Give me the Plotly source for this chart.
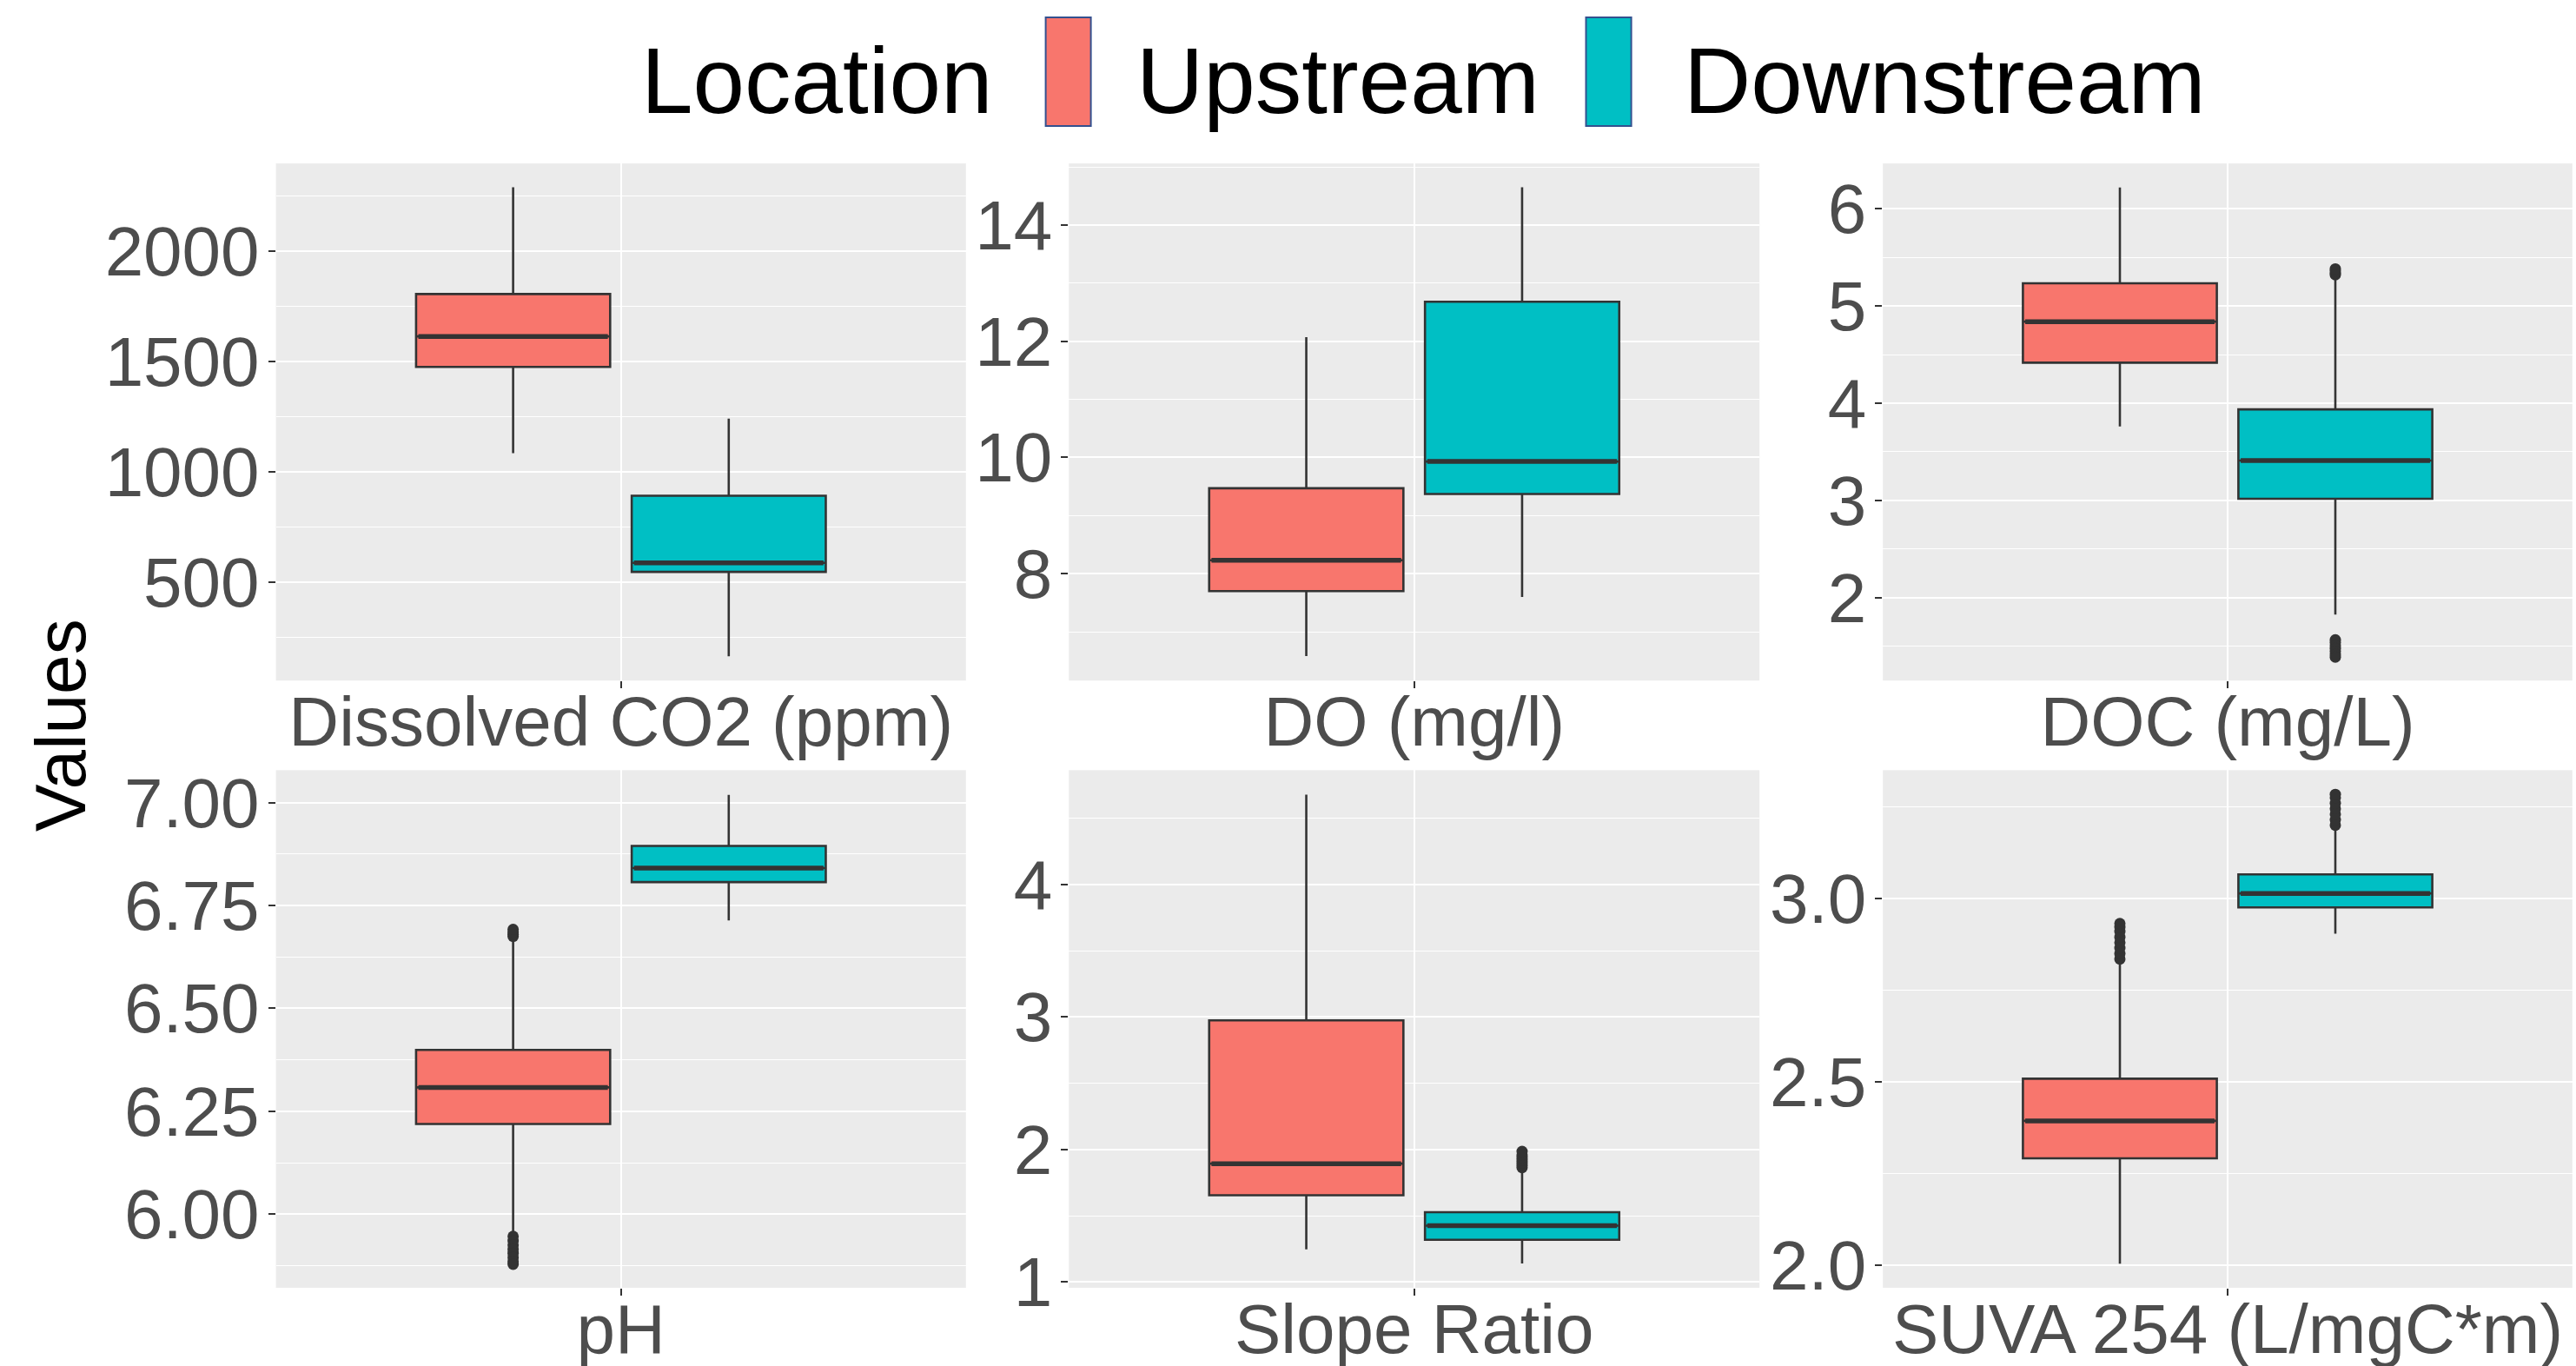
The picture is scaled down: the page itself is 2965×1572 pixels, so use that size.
import plotly.graph_objects as go

# ---------------- data ----------------
panels = ["Dissolved CO2 (ppm)", "DO (mg/l)", "DOC (mg/L)", "pH", "Slope Ratio", "SUVA 254 (L/mgC*m)"]
locations = ["Upstream", "Downstream"]

up_low = [1085, 6.58, 3.76, 5.955, 1.247, 2.005]
up_q1 = [1476, 7.70, 4.416, 6.219, 1.655, 2.292]
up_med = [1614, 8.23, 4.838, 6.308, 1.893, 2.394]
up_q3 = [1806, 9.47, 5.232, 6.399, 2.975, 2.509]
up_high = [2289, 12.07, 6.217, 6.668, 4.679, 2.83]
up_outliers = [
    [], [], [],
    [6.675, 6.68, 6.685, 6.692, 5.946, 5.935, 5.925, 5.915, 5.905, 5.895, 5.885, 5.878],
    [],
    [2.835, 2.85, 2.865, 2.88, 2.895, 2.91, 2.922, 2.932],
]

down_low = [166, 7.60, 1.827, 6.714, 1.140, 2.904]
down_q1 = [548, 9.37, 3.017, 6.807, 1.318, 2.976]
down_med = [589, 9.93, 3.411, 6.841, 1.425, 3.014]
down_q3 = [893, 12.68, 3.936, 6.895, 1.527, 3.066]
down_high = [1242, 14.65, 5.30, 7.019, 1.84, 3.19]
down_outliers = [
    [], [],
    [5.32, 5.34, 5.36, 5.38, 1.568, 1.54, 1.51, 1.48, 1.45, 1.42, 1.39],
    [],
    [1.863, 1.88, 1.90, 1.92, 1.94, 1.96, 1.986],
    [3.2, 3.215, 3.23, 3.245, 3.26, 3.275, 3.284],
]

# axis settings
y_ranges = [[56, 2397], [6.16, 15.06], [1.149, 6.464], [5.821, 7.079], [0.956, 4.864], [1.939, 3.350]]
y_dticks = [500, 2, 1, 0.25, 1, 0.5]
y_formats = ["", "", "", ".2f", "", ".1f"]

# ---------------- style ----------------
W, H = 2965, 1572
FONT = "Liberation Sans, Arial, Helvetica, sans-serif"
fill_colors = {"Upstream": "#F8766D", "Downstream": "#00BFC4"}
DARK = "#333333"
TXT = "#4D4D4D"
DODGE = 0.1875
BOX_W = 0.3375
col_px = [(317.6, 1111.8), (1230.3, 2025.2), (2167.2, 2960.8)]
row_px = [(188.1, 783.2), (886.3, 1482.0)]

fig = go.Figure()
layout = dict(
    width=W, height=H,
    margin=dict(l=0, r=0, t=0, b=0, pad=0),
    paper_bgcolor="white",
    plot_bgcolor="#EBEBEB",
    showlegend=False,
    boxmode="overlay",
    font=dict(family=FONT, color=TXT),
    shapes=[],
    annotations=[],
)

stats = {
    "Upstream": (up_low, up_q1, up_med, up_q3, up_high, up_outliers),
    "Downstream": (down_low, down_q1, down_med, down_q3, down_high, down_outliers),
}

for i, name in enumerate(panels):
    r, c = divmod(i, 3)
    k = i + 1
    xa = "x" if k == 1 else f"x{k}"
    ya = "y" if k == 1 else f"y{k}"
    for j, loc in enumerate(locations):
        low, q1, med, q3, high, outs = stats[loc]
        pos = 1 - DODGE if j == 0 else 1 + DODGE
        fig.add_trace(go.Box(
            x=[pos], q1=[q1[i]], median=[med[i]], q3=[q3[i]],
            lowerfence=[low[i]], upperfence=[high[i]],
            width=BOX_W, fillcolor=fill_colors[loc],
            line=dict(color=DARK, width=2.6), whiskerwidth=0,
            boxpoints=False, name=loc, xaxis=xa, yaxis=ya,
            hoverinfo="skip",
        ))
        fig.add_trace(go.Scatter(
            x=[pos - BOX_W / 2 + 0.004, pos + BOX_W / 2 - 0.004], y=[med[i], med[i]],
            mode="lines", line=dict(color=DARK, width=5.5),
            xaxis=xa, yaxis=ya, hoverinfo="skip",
        ))
        if outs[i]:
            fig.add_trace(go.Scatter(
                x=[pos] * len(outs[i]), y=outs[i], mode="markers",
                marker=dict(color=DARK, size=13, line=dict(width=0)),
                xaxis=xa, yaxis=ya, hoverinfo="skip",
            ))
    x0, x1 = col_px[c]
    y0, y1 = row_px[r]
    layout["xaxis" if k == 1 else f"xaxis{k}"] = dict(
        domain=[x0 / W, x1 / W], range=[0.4, 1.6], anchor=ya,
        tickmode="array", tickvals=[1], ticktext=[name],
        showgrid=True, gridcolor="white", gridwidth=2.4, zeroline=False,
        ticks="outside", ticklen=8, tickwidth=2.2, tickcolor=DARK,
        tickfont=dict(size=80, color=TXT, family=FONT),
        ticklabelstandoff=-30,
        showline=False, automargin=False, fixedrange=True,
    )
    layout["yaxis" if k == 1 else f"yaxis{k}"] = dict(
        domain=[1 - y1 / H, 1 - y0 / H], range=y_ranges[i], anchor=xa,
        tick0=0, dtick=y_dticks[i], tickformat=y_formats[i],
        showgrid=True, gridcolor="white", gridwidth=2.4, zeroline=False,
        minor=dict(dtick=y_dticks[i] / 2, tick0=0, showgrid=True, gridcolor="white", gridwidth=1.2, ticks=""),
        ticks="outside", ticklen=8, tickwidth=2.2, tickcolor=DARK,
        tickfont=dict(size=80, color=TXT, family=FONT),
        ticklabelstandoff=-6,
        showline=False, automargin=False, fixedrange=True,
    )

# y-axis title
layout["annotations"].append(dict(
    text="Values", xref="paper", yref="paper", x=69 / W, y=1 - 835 / H,
    xanchor="center", yanchor="middle", textangle=-90, showarrow=False,
    font=dict(size=82, color="black", family=FONT),
))

# legend (drawn manually to match the large keys)
LEG_Y = 1 - 93 / H
layout["annotations"].append(dict(
    text="Location", xref="paper", yref="paper", x=736 / W, y=LEG_Y,
    xanchor="left", yanchor="middle", showarrow=False,
    font=dict(size=107, color="black", family=FONT),
))
key_px = [(1203.6, 1255.6), (1825.5, 1877.6)]
label_px = [1306, 1936]
for j, loc in enumerate(locations):
    kx0, kx1 = key_px[j]
    layout["shapes"].append(dict(
        type="rect", xref="paper", yref="paper",
        x0=kx0 / W, x1=kx1 / W, y0=1 - 145 / H, y1=1 - 20 / H,
        fillcolor=fill_colors[loc], line=dict(color="#34518F", width=2),
    ))
    layout["annotations"].append(dict(
        text=loc, xref="paper", yref="paper", x=label_px[j] / W, y=LEG_Y,
        xanchor="left", yanchor="middle", showarrow=False,
        font=dict(size=107, color="black", family=FONT),
    ))

fig.update_layout(**layout)
fig.write_html(
    "out.html",
    config={"displayModeBar": False},
    post_script="document.body.style.margin='0';document.body.style.overflow='hidden';",
)
